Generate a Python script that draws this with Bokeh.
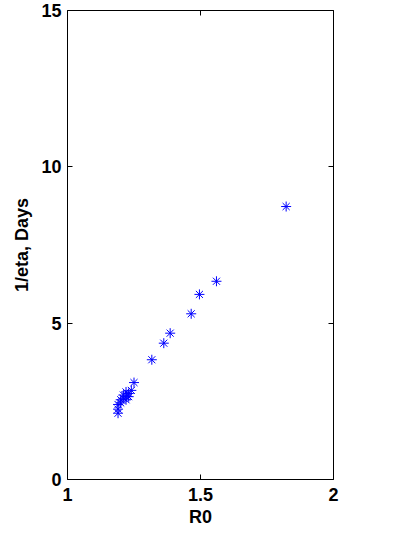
from bokeh.plotting import figure
from bokeh.models import LinearAxis, FixedTicker, Range1d
from bokeh.embed import file_html
from bokeh.resources import INLINE

r0 = [1.19, 1.19, 1.19, 1.20, 1.20, 1.21, 1.21, 1.22, 1.22, 1.22, 1.23, 1.23,
      1.24, 1.25, 1.317, 1.362, 1.386, 1.465, 1.496, 1.560, 1.822]
inv_eta = [2.12, 2.25, 2.40, 2.45, 2.55, 2.60, 2.70, 2.55, 2.65, 2.80, 2.65, 2.75,
           2.85, 3.10, 3.83, 4.36, 4.68, 5.30, 5.92, 6.34, 8.73]

x_ticks = [1, 1.5, 2]
y_ticks = [0, 5, 10, 15]

FONT = "Liberation Sans"
FS = "18px"

p = figure(width=400, height=540, output_backend="svg", toolbar_location=None,
           x_range=Range1d(1, 2), y_range=Range1d(0, 15),
           min_border_left=67, min_border_right=67, min_border_top=10, min_border_bottom=61,
           x_axis_location=None, y_axis_location=None)
p.grid.visible = False
p.outline_line_color = None
p.background_fill_color = "white"
p.border_fill_color = "white"

def style(ax, labels=True):
    ax.axis_line_color = "black"
    ax.axis_line_width = 1
    ax.major_tick_in = 5
    ax.major_tick_out = 0
    ax.minor_tick_in = 0
    ax.minor_tick_out = 0
    ax.major_tick_line_color = "black"
    ax.major_label_text_font = FONT
    ax.major_label_text_font_style = "bold"
    ax.major_label_text_font_size = FS
    ax.major_label_text_color = "black"
    ax.axis_label_text_font = FONT
    ax.axis_label_text_font_style = "bold"
    ax.axis_label_text_font_size = FS
    ax.axis_label_text_color = "black"
    if not labels:
        ax.major_label_text_font_size = "0px"
        ax.major_label_text_alpha = 0

xb = LinearAxis(ticker=FixedTicker(ticks=x_ticks), axis_label="R0")
style(xb)
xb.major_label_standoff = 8
xb.axis_label_standoff = 3
p.add_layout(xb, "below")

yl = LinearAxis(ticker=FixedTicker(ticks=y_ticks), axis_label="1/eta, Days")
style(yl)
yl.major_label_standoff = 6
yl.axis_label_standoff = 6
p.add_layout(yl, "left")

xt = LinearAxis(ticker=FixedTicker(ticks=x_ticks))
style(xt, labels=False)
xt.major_label_standoff = 0
p.add_layout(xt, "above")

yr = LinearAxis(ticker=FixedTicker(ticks=y_ticks))
style(yr, labels=False)
yr.major_label_standoff = 0
p.add_layout(yr, "right")

p.scatter(r0, inv_eta, marker="asterisk", size=10, line_color="#0000ff", line_width=1)

open("out.html", "w").write(file_html(p, INLINE))
